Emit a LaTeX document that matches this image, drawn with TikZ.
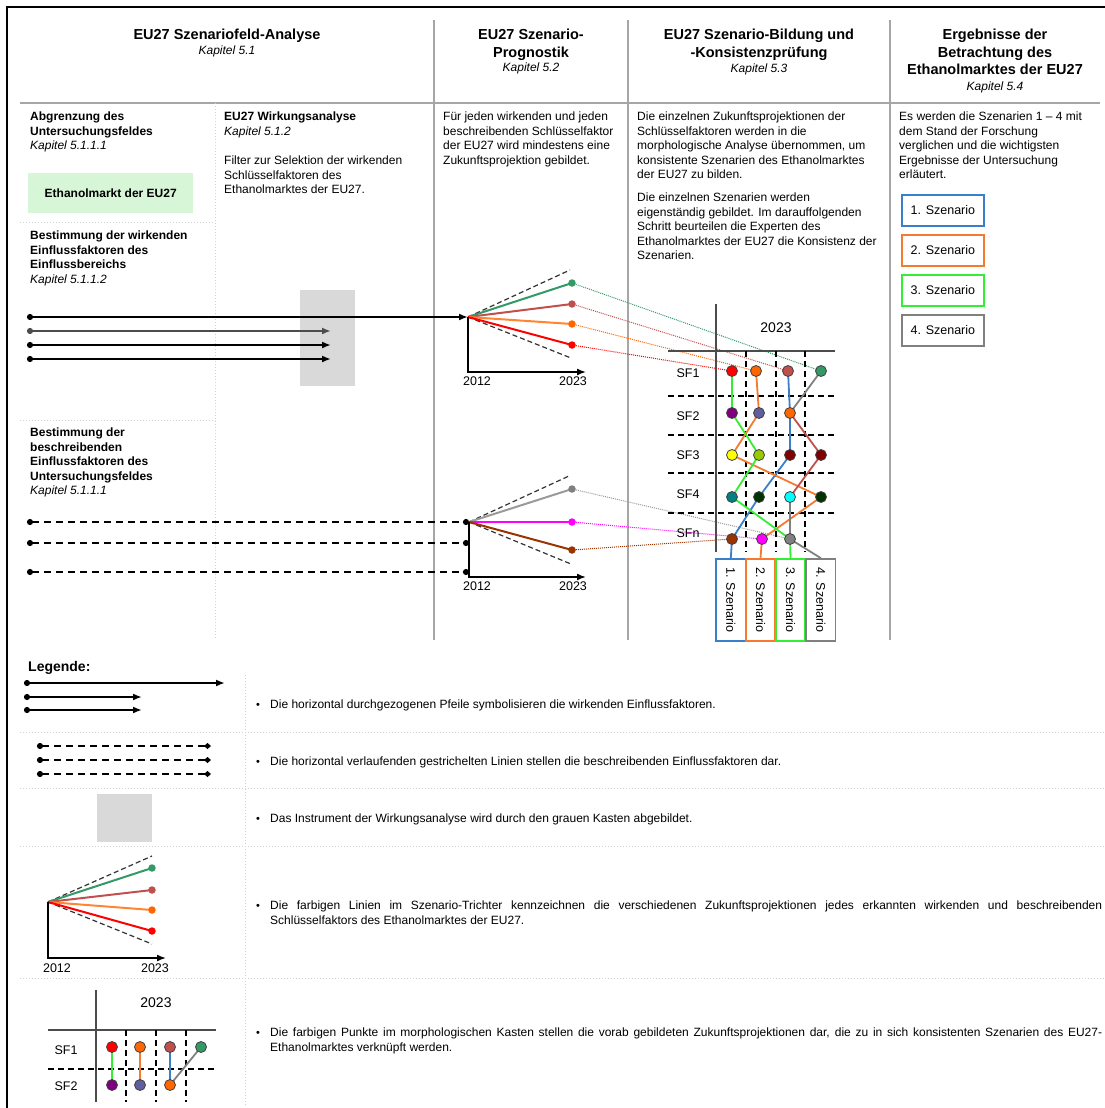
\documentclass[tikz,border=0pt]{standalone}
\usepackage{fontspec}
\setmainfont{Liberation Sans}
\usetikzlibrary{arrows.meta,positioning}

\definecolor{sfgreen}{HTML}{339966}
\definecolor{sfrose}{HTML}{C0504D}
\definecolor{sforange}{HTML}{FF6600}
\definecolor{sfred}{HTML}{FF0000}
\definecolor{sfpurple}{HTML}{800080}
\definecolor{sfslate}{HTML}{5F5F9F}
\definecolor{sfyellow}{HTML}{FFFF00}
\definecolor{sflime}{HTML}{99CC00}
\definecolor{sfdark}{HTML}{800000}
\definecolor{sfteal}{HTML}{008080}
\definecolor{sfforest}{HTML}{003300}
\definecolor{sfcyan}{HTML}{00FFFF}
\definecolor{sfbrown}{HTML}{993300}
\definecolor{sfmagenta}{HTML}{FF00FF}
\definecolor{sfgray}{HTML}{808080}
\definecolor{szblue}{HTML}{3A7FCB}
\definecolor{szorange}{HTML}{F47A30}
\definecolor{szgreen}{HTML}{33EE33}
\definecolor{boxgray}{HTML}{D9D9D9}
\definecolor{mint}{HTML}{D7F5D7}
\definecolor{rulegray}{HTML}{A6A6A6}
\definecolor{faintgray}{HTML}{D0D0D0}

\tikzset{
  txt/.style={inner sep=0pt, anchor=north west, align=left, font=\fontsize{12}{14.5}\selectfont},
  btxt/.style={txt, font=\fontsize{12}{14.5}\selectfont\bfseries},
  head/.style={inner sep=0pt, anchor=north, align=center, font=\fontsize{14.5}{17.5}\selectfont\bfseries},
  kap/.style={inner sep=0pt, anchor=base, font=\fontsize{12}{14.5}\selectfont\itshape},
  lbl/.style={inner sep=0pt, font=\fontsize{12.5}{15}\selectfont},
  colrule/.style={draw=rulegray, line width=1.5pt},
  faint/.style={draw=faintgray, line width=1pt, dotted},
  wirk/.style={line width=2pt, {Circle[length=6pt]}-{Latex[length=9pt,width=7pt]}},
  besch/.style={line width=2pt, dash pattern=on 7pt off 5pt, {Circle[length=6pt]}-{Circle[length=6pt]}},
  lbesch/.style={line width=2pt, dash pattern=on 7pt off 5pt, {Circle[length=6pt]}-{Diamond[length=7pt,width=6pt]}},
  fanedge/.style={black!80, line width=1.2pt, dash pattern=on 5pt off 3pt},
  ray/.style={line width=2pt},
  taxis/.style={line width=1.6pt, -{Latex[length=9pt,width=7pt]}},
  fdot/.style={circle, fill=#1, inner sep=0pt, minimum size=7.5pt},
  link/.style={line width=1pt, densely dotted},
  mdot/.style={circle, draw=black!75, line width=0.8pt, fill=#1, inner sep=0pt, minimum size=11pt},
  sline/.style={line width=1.8pt},
  mgrid/.style={line width=1.2pt, dash pattern=on 6pt off 4pt},
  szbox/.style={draw=#1, line width=1.8pt, fill=white, rotate=-90, minimum width=82pt, minimum height=29.5pt, inner sep=0pt, font=\fontsize{12.5}{15}\selectfont},
  rsbox/.style={draw=#1, line width=1.8pt, minimum width=82pt, minimum height=31pt, inner sep=0pt, anchor=west, font=\fontsize{12.5}{15}\selectfont},
  ltxt/.style={txt, text width=832pt, align=justify},
  bul/.style={inner sep=0pt, font=\fontsize{11}{12}\selectfont}
}

\begin{document}
\begin{tikzpicture}[x=1pt, y=-1pt]
\useasboundingbox (0,0) rectangle (1105,1108);

% frame and columns
\draw[line width=1.3pt] (7,1108) -- (7,7) -- (1105,7);
\draw[colrule] (20,103) -- (1100,103);
\draw[colrule] (434,20) -- (434,640);
\draw[colrule] (628,20) -- (628,640);
\draw[colrule] (890,20) -- (890,640);
\draw[faint] (215,103) -- (215,640);
\draw[faint] (20,222) -- (215,222);
\draw[faint] (20,420) -- (215,420);

% headers
\node[head] (h1) at (227,28.8) {EU27 Szenariofeld-Analyse};
\node[kap] (k1) at (227,54.3) {Kapitel 5.1};
\node[head] (h2) at (531,28.8) {EU27 Szenario-\\Prognostik};
\node[kap] (k2) at (531,71.5) {Kapitel 5.2};
\node[head] (h3) at (759,28.8) {EU27 Szenario-Bildung und\\-Konsistenzprüfung};
\node[kap] (k3) at (759,72.3) {Kapitel 5.3};
\node[head] (h4) at (995,28.8) {Ergebnisse der\\Betrachtung des\\Ethanolmarktes der EU27};
\node[kap] (k4) at (995,90) {Kapitel 5.4};

% texts
\node[btxt] (t11) at (30,111.7) {Abgrenzung des\\Untersuchungsfeldes\\{\mdseries\itshape Kapitel 5.1.1.1}};
\node[fill=mint, minimum width=165pt, minimum height=40pt, inner sep=0pt, anchor=north west, font=\fontsize{12}{14.5}\selectfont\bfseries] (markt) at (28,173) {Ethanolmarkt der EU27};
\node[btxt] (t12) at (30,230.7) {Bestimmung der wirkenden\\Einflussfaktoren des\\Einflussbereichs\\{\mdseries\itshape Kapitel 5.1.1.2}};
\node[btxt] (t13) at (30,427.7) {Bestimmung der\\beschreibenden\\Einflussfaktoren des\\Untersuchungsfeldes\\{\mdseries\itshape Kapitel 5.1.1.1}};
\node[btxt] (t21) at (224,111.7) {EU27 Wirkungsanalyse\\{\mdseries\itshape Kapitel 5.1.2}};
\node[txt] (t22) at (224,155.7) {Filter zur Selektion der wirkenden\\Schlüsselfaktoren des\\Ethanolmarktes der EU27.};
\node[txt] (t31) at (443,111.7) {Für jeden wirkenden und jeden\\beschreibenden Schlüsselfaktor\\der EU27 wird mindestens eine\\Zukunftsprojektion gebildet.};
\node[txt] (t41) at (637,111.7) {Die einzelnen Zukunftsprojektionen der\\Schlüsselfaktoren werden in die\\morphologische Analyse übernommen, um\\konsistente Szenarien des Ethanolmarktes\\der EU27 zu bilden.};
\node[txt] (t42) at (637,192.7) {Die einzelnen Szenarien werden\\eigenständig gebildet. Im darauffolgenden\\Schritt beurteilen die Experten des\\Ethanolmarktes der EU27 die Konsistenz der\\Szenarien.};
\node[txt] (t51) at (899,111.7) {Es werden die Szenarien 1 – 4 mit\\dem Stand der Forschung\\verglichen und die wichtigsten\\Ergebnisse der Untersuchung\\erläutert.};

\node[rsbox=szblue] (rs1) at (901,210.5) {1. Szenario};
\node[rsbox=szorange] (rs2) at (901,250.5) {2. Szenario};
\node[rsbox=szgreen] (rs3) at (901,290.5) {3. Szenario};
\node[rsbox=sfgray] (rs4) at (901,330.5) {4. Szenario};

% wirkende Einflussfaktoren
\node[fill=boxgray, minimum width=55pt, minimum height=96pt, inner sep=0pt, anchor=north west] (filter) at (300,290) {};
\coordinate (o1) at (468,317);
\coordinate (w1) at (27,317);
\coordinate (w2) at (27,331);
\coordinate (w3) at (27,345);
\coordinate (w4) at (27,359);
\coordinate (w2e) at (331,331);
\coordinate (w3e) at (331,345);
\coordinate (w4e) at (331,359);
\draw[wirk] (w1) -- (o1);
\draw[wirk, black!70] (w2) -- (w2e);
\draw[wirk] (w3) -- (w3e);
\draw[wirk] (w4) -- (w4e);

% beschreibende Einflussfaktoren
\coordinate (o2) at (469,522);
\coordinate (b1) at (27,522);
\coordinate (b2) at (27,543);
\coordinate (b3) at (27,572);
\coordinate (b2e) at (469,543);
\coordinate (b3e) at (469,572);
\draw[besch] (b1) -- (o2);
\draw[besch] (b2) -- (b2e);
\draw[besch] (b3) -- (b3e);

% morphological box points
\coordinate (sf1a) at (732,371);
\coordinate (sf1b) at (756,371);
\coordinate (sf1c) at (788,371);
\coordinate (sf1d) at (821,371);
\coordinate (sf2a) at (732,413);
\coordinate (sf2b) at (759,413);
\coordinate (sf2c) at (790,413);
\coordinate (sf3a) at (732,455);
\coordinate (sf3b) at (759,455);
\coordinate (sf3c) at (790,455);
\coordinate (sf3d) at (821,455);
\coordinate (sf4a) at (732,497);
\coordinate (sf4b) at (759,497);
\coordinate (sf4c) at (790,497);
\coordinate (sf4d) at (821,497);
\coordinate (sfna) at (732,539);
\coordinate (sfnb) at (762,539);
\coordinate (sfnc) at (790,539);

% upper funnel
\coordinate (fu1) at (572,283);
\coordinate (fu2) at (572,304);
\coordinate (fu3) at (572,324);
\coordinate (fu4) at (572,345);
\coordinate (o1hi) at (570,270);
\coordinate (o1lo) at (571,358);
\coordinate (o1ax) at (468,372);
\coordinate (o1ar) at (586,372);
\draw[link, sfgreen] (fu1) -- (sf1d);
\draw[link, sfrose] (fu2) -- (sf1c);
\draw[link, sforange] (fu3) -- (sf1b);
\draw[link, sfred] (fu4) -- (sf1a);
\draw[fanedge] (o1) -- (o1hi);
\draw[fanedge] (o1) -- (o1lo);
\draw[ray, sfgreen] (o1) -- (fu1);
\draw[ray, sfrose] (o1) -- (fu2);
\draw[ray, sforange!80] (o1) -- (fu3);
\draw[ray, sfred] (o1) -- (fu4);
\draw[taxis] (o1) -- (o1ax) -- (o1ar);
\node[fdot=sfgreen] at (fu1) {};
\node[fdot=sfrose] at (fu2) {};
\node[fdot=sforange] at (fu3) {};
\node[fdot=sfred] at (fu4) {};
\node[lbl] (y1a) at (477,381) {2012};
\node[lbl] (y1b) at (573,381) {2023};

% lower funnel
\coordinate (fl1) at (572,489);
\coordinate (fl2) at (572,522);
\coordinate (fl3) at (572,550);
\coordinate (o2hi) at (569,476);
\coordinate (o2lo) at (571,564);
\coordinate (o2ax) at (469,577);
\coordinate (o2ar) at (586,577);
\draw[link, sfgray!80] (fl1) -- (sfnc);
\draw[link, sfmagenta] (fl2) -- (sfnb);
\draw[link, sfbrown] (fl3) -- (sfna);
\draw[fanedge] (o2) -- (o2hi);
\draw[fanedge] (o2) -- (o2lo);
\draw[ray, sfgray!80] (o2) -- (fl1);
\draw[ray, sfmagenta] (o2) -- (fl2);
\draw[ray, sfbrown] (o2) -- (fl3);
\draw[taxis] (o2) -- (o2ax) -- (o2ar);
\node[fdot=sfgray] at (fl1) {};
\node[fdot=sfmagenta] at (fl2) {};
\node[fdot=sfbrown] at (fl3) {};
\node[lbl] (y2a) at (477,586) {2012};
\node[lbl] (y2b) at (573,586) {2023};

% morphological box
\draw[line width=1.3pt, black!70] (716,304) -- (716,552);
\draw[line width=1.3pt, black!70] (668,351) -- (835,351);
\draw[mgrid] (746,351) -- (746,552);
\draw[mgrid] (776,351) -- (776,552);
\draw[mgrid] (805,351) -- (805,552);
\draw[mgrid] (668,396) -- (835,396);
\draw[mgrid] (668,435) -- (835,435);
\draw[mgrid] (668,473) -- (835,473);
\draw[mgrid] (668,513) -- (835,513);
\node[lbl, font=\fontsize{14}{16}\selectfont] (myear) at (776,328) {2023};
\node[lbl] (sf1) at (688,373) {SF1};
\node[lbl] (sf2) at (688,416) {SF2};
\node[lbl] (sf3) at (688,455) {SF3};
\node[lbl] (sf4) at (688,494) {SF4};
\node[lbl] (sfn) at (688,533) {SFn};

\node[szbox=szblue] (sz1) at (730.8,600) {1. Szenario};
\node[szbox=szorange] (sz2) at (760.5,600) {2. Szenario};
\node[szbox=szgreen] (sz3) at (790.5,600) {3. Szenario};
\node[szbox=sfgray] (sz4) at (820.8,600) {4. Szenario};

\draw[sline, szblue] (sf1c) -- (sf2c) -- (sf3c) -- (sf4b) -- (sfna) -- (sz1.west);
\draw[sline, szorange] (sf1b) -- (sf2b) -- (sf3a) -- (sf4d) -- (sfnb) -- (sz2.west);
\draw[sline, szgreen] (sf1a) -- (sf2a) -- (sf3b) -- (sf4a) -- (sfnc) -- (sz3.west);
\draw[sline, sfgray] (sf1d) -- (sf2c);
\draw[sline, sfrose] (sf2c) -- (sf3d) -- (sf4c);
\draw[sline, sfgray] (sf4c) -- (sfnc) -- (sz4.west);

\node[mdot=sfred] at (sf1a) {};
\node[mdot=sforange] at (sf1b) {};
\node[mdot=sfrose] at (sf1c) {};
\node[mdot=sfgreen] at (sf1d) {};
\node[mdot=sfpurple] at (sf2a) {};
\node[mdot=sfslate] at (sf2b) {};
\node[mdot=sforange] at (sf2c) {};
\node[mdot=sfyellow] at (sf3a) {};
\node[mdot=sflime] at (sf3b) {};
\node[mdot=sfdark] at (sf3c) {};
\node[mdot=sfdark] at (sf3d) {};
\node[mdot=sfteal] at (sf4a) {};
\node[mdot=sfforest] at (sf4b) {};
\node[mdot=sfcyan] at (sf4c) {};
\node[mdot=sfforest] at (sf4d) {};
\node[mdot=sfbrown] at (sfna) {};
\node[mdot=sfmagenta] at (sfnb) {};
\node[mdot=sfgray] at (sfnc) {};

% legend
\node[inner sep=0pt, anchor=west, font=\fontsize{14}{17}\selectfont\bfseries] (leg) at (28,668) {Legende:};
\draw[faint] (245,675) -- (245,1105);
\draw[faint] (20,732) -- (1105,732);
\draw[faint] (20,788) -- (1105,788);
\draw[faint] (20,846) -- (1105,846);
\draw[faint] (20,978) -- (1105,978);

\coordinate (l1s) at (24,683);
\coordinate (l1e) at (225,683);
\coordinate (l2s) at (24,697);
\coordinate (l2e) at (142,697);
\coordinate (l3s) at (24,710);
\coordinate (l3e) at (142,710);
\draw[wirk] (l1s) -- (l1e);
\draw[wirk] (l2s) -- (l2e);
\draw[wirk] (l3s) -- (l3e);

\coordinate (l4s) at (37,746);
\coordinate (l4e) at (211,746);
\coordinate (l5s) at (37,760);
\coordinate (l5e) at (211,760);
\coordinate (l6s) at (37,774);
\coordinate (l6e) at (211,774);
\draw[lbesch] (l4s) -- (l4e);
\draw[lbesch] (l5s) -- (l5e);
\draw[lbesch] (l6s) -- (l6e);

\node[fill=boxgray, minimum width=55pt, minimum height=48pt, inner sep=0pt, anchor=north west] (lfilter) at (97,794) {};

\coordinate (o3) at (48,902);
\coordinate (lf1) at (152,868);
\coordinate (lf2) at (152,890);
\coordinate (lf3) at (152,910);
\coordinate (lf4) at (152,931);
\coordinate (o3hi) at (152,856);
\coordinate (o3lo) at (152,944);
\coordinate (o3ax) at (48,958);
\coordinate (o3ar) at (166,958);
\draw[fanedge] (o3) -- (o3hi);
\draw[fanedge] (o3) -- (o3lo);
\draw[ray, sfgreen] (o3) -- (lf1);
\draw[ray, sfrose] (o3) -- (lf2);
\draw[ray, sforange!80] (o3) -- (lf3);
\draw[ray, sfred] (o3) -- (lf4);
\draw[taxis] (o3) -- (o3ax) -- (o3ar);
\node[fdot=sfgreen] at (lf1) {};
\node[fdot=sfrose] at (lf2) {};
\node[fdot=sforange] at (lf3) {};
\node[fdot=sfred] at (lf4) {};
\node[lbl] (y3a) at (57,968) {2012};
\node[lbl] (y3b) at (155,968) {2023};

\coordinate (m1a) at (112,1047);
\coordinate (m1b) at (140,1047);
\coordinate (m1c) at (170,1047);
\coordinate (m1d) at (201,1047);
\coordinate (m2a) at (112,1085);
\coordinate (m2b) at (140,1085);
\coordinate (m2c) at (170,1085);
\draw[line width=1.3pt, black!70] (96,990) -- (96,1102);
\draw[line width=1.3pt, black!70] (48,1030) -- (216,1030);
\draw[mgrid] (126,1030) -- (126,1102);
\draw[mgrid] (156,1030) -- (156,1102);
\draw[mgrid] (186,1030) -- (186,1102);
\draw[mgrid] (48,1069) -- (216,1069);
\node[lbl, font=\fontsize{14}{16}\selectfont] (lyear) at (156,1003) {2023};
\node[lbl] (lsf1) at (66,1050) {SF1};
\node[lbl] (lsf2) at (66,1086) {SF2};
\draw[sline, szgreen] (m1a) -- (m2a);
\draw[sline, szorange] (m1b) -- (m2b);
\draw[sline, szblue] (m1c) -- (m2c);
\draw[sline, sfgray] (m1d) -- (m2c);
\node[mdot=sfred] at (m1a) {};
\node[mdot=sforange] at (m1b) {};
\node[mdot=sfrose] at (m1c) {};
\node[mdot=sfgreen] at (m1d) {};
\node[mdot=sfpurple] at (m2a) {};
\node[mdot=sfslate] at (m2b) {};
\node[mdot=sforange] at (m2c) {};

\node[bul] (lb1) at (258,706) {\textbullet};
\node[bul] (lb2) at (258,763) {\textbullet};
\node[bul] (lb3) at (258,820) {\textbullet};
\node[bul] (lb4) at (258,907) {\textbullet};
\node[bul] (lb5) at (258,1034) {\textbullet};
\node[txt] (lt1) at (270,699.7) {Die horizontal durchgezogenen Pfeile symbolisieren die wirkenden Einflussfaktoren.};
\node[txt] (lt2) at (270,756.7) {Die horizontal verlaufenden gestrichelten Linien stellen die beschreibenden Einflussfaktoren dar.};
\node[txt] (lt3) at (270,813.7) {Das Instrument der Wirkungsanalyse wird durch den grauen Kasten abgebildet.};
\node[ltxt] (lt4) at (270,900.7) {Die farbigen Linien im Szenario-Trichter kennzeichnen die verschiedenen Zukunftsprojektionen jedes erkannten wirkenden und beschreibenden\linebreak Schlüsselfaktors des Ethanolmarktes der EU27.};
\node[ltxt] (lt5) at (270,1027.7) {Die farbigen Punkte im morphologischen Kasten stellen die vorab gebildeten Zukunftsprojektionen dar, die zu in sich konsistenten Szenarien des EU27-\linebreak Ethanolmarktes verknüpft werden.};
\end{tikzpicture}
\end{document}
